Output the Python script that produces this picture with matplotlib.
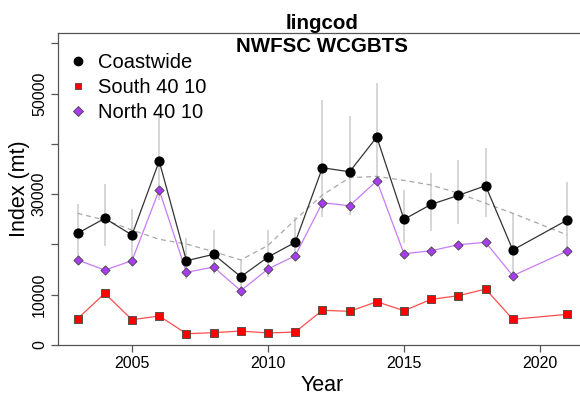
import matplotlib
matplotlib.use('Agg')
import matplotlib.pyplot as plt
from matplotlib.lines import Line2D

plt.rcParams['font.family'] = ['Liberation Sans', 'DejaVu Sans']

# survey years (no 2020 survey)
years = [2003, 2004, 2005, 2006, 2007, 2008, 2009, 2010, 2011, 2012,
         2013, 2014, 2015, 2016, 2017, 2018, 2019, 2021]

# index values (mt)
coastwide = [22200, 25190, 21870, 36580, 16760, 18030, 13580, 17490, 20420, 35250,
             34450, 41350, 24990, 27970, 29760, 31670, 18890, 24850]
south = [5230, 10270, 5030, 5770, 2250, 2450, 2780, 2390, 2580, 6900,
         6700, 8610, 6820, 9080, 9800, 11130, 5110, 6100]
north = [16900, 14910, 16760, 30810, 14450, 15510, 10800, 15110, 17750, 28290,
         27700, 32660, 18150, 18750, 19940, 20420, 13780, 18690]

# coastwide interval
ci_low = [16510, 19750, 16910, 28840, 13130, 14120, 10540, 13590, 17210, 25530,
          25860, 33210, 20220, 22730, 24060, 25530, 14260, 18880]
ci_high = [27990, 32020, 27050, 46150, 21330, 22870, 16910, 22870, 25530, 48730,
           45550, 52170, 30830, 34270, 36790, 39180, 26190, 32480]

# smooth trend (dashed grey)
trend = [26180, 24870, 22870, 21020, 20090, 18560, 16910, 19800, 24900, 29830,
         33270, 33540, 32740, 31810, 30170, 28180, 26190, 21880]

fig = plt.figure(figsize=(5.8, 3.95), dpi=100)
ax = fig.add_axes([58 / 580, 50 / 395, 528.8 / 580, 312 / 395])

ax.vlines(years, ci_low, ci_high, color='#d6d6d6', lw=1.4, zorder=1)
ax.plot(years, trend, color='#a8a8a8', lw=0.9, ls=(0, (4, 3)), zorder=2)

ax.plot(years, coastwide, color='#333333', lw=0.9, zorder=3)
ax.plot(years, south, color='#ff4d4d', lw=0.9, zorder=3)
ax.plot(years, north, color='#c77cf7', lw=0.9, zorder=3)

ax.scatter(years, coastwide, s=40, marker='o', c='black', zorder=4)
ax.scatter(years, south, s=26, marker='s', c='#ff0000', edgecolors='#444444',
           linewidths=0.6, zorder=4)
ax.scatter(years, north, s=22, marker='D', c='#a83cf0', edgecolors='#444444',
           linewidths=0.6, zorder=4)

ax.set_xlim(2002.28, 2021.72)
ax.set_ylim(0, 62050)
ax.set_xticks([2005, 2010, 2015, 2020])
ax.set_yticks([0, 10000, 20000, 30000, 40000, 50000, 60000])
ax.set_yticklabels(['0', '10000', '', '30000', '', '50000', ''], rotation=90, va='center')
ax.tick_params(axis='both', direction='out', length=5, width=0.9, color='#555555',
               labelsize=11.5, pad=3)
for s in ax.spines.values():
    s.set_color('#555555')
    s.set_linewidth(0.9)

ax.set_xlabel('Year', fontsize=15.5, labelpad=3)
ax.set_ylabel('Index (mt)', fontsize=15.5, labelpad=1.5)

cx = (58 + 586.8) / 2 / 580
fig.text(cx, 1 - 29.3 / 395, 'lingcod', ha='center', va='baseline',
         fontsize=14.8, fontweight='bold')
fig.text(cx, 1 - 51.7 / 395, 'NWFSC WCGBTS', ha='center', va='baseline',
         fontsize=14.8, fontweight='bold')

handles = [
    Line2D([], [], ls='none', marker='o', ms=6, mfc='black', mec='black'),
    Line2D([], [], ls='none', marker='s', ms=5, mfc='#ff0000', mec='#444444', mew=0.6),
    Line2D([], [], ls='none', marker='D', ms=4.6, mfc='#a83cf0', mec='#444444', mew=0.6),
]
ax.legend(handles, ['Coastwide', 'South 40 10', 'North 40 10'],
          loc='upper left', bbox_to_anchor=((67.7 - 58) / 528.8, (345 - 53) / 312),
          frameon=False, fontsize=14.5, handlelength=1.0, handletextpad=0.5,
          labelspacing=0.30, borderaxespad=0, borderpad=0)

fig.savefig('out.png', dpi=100)
